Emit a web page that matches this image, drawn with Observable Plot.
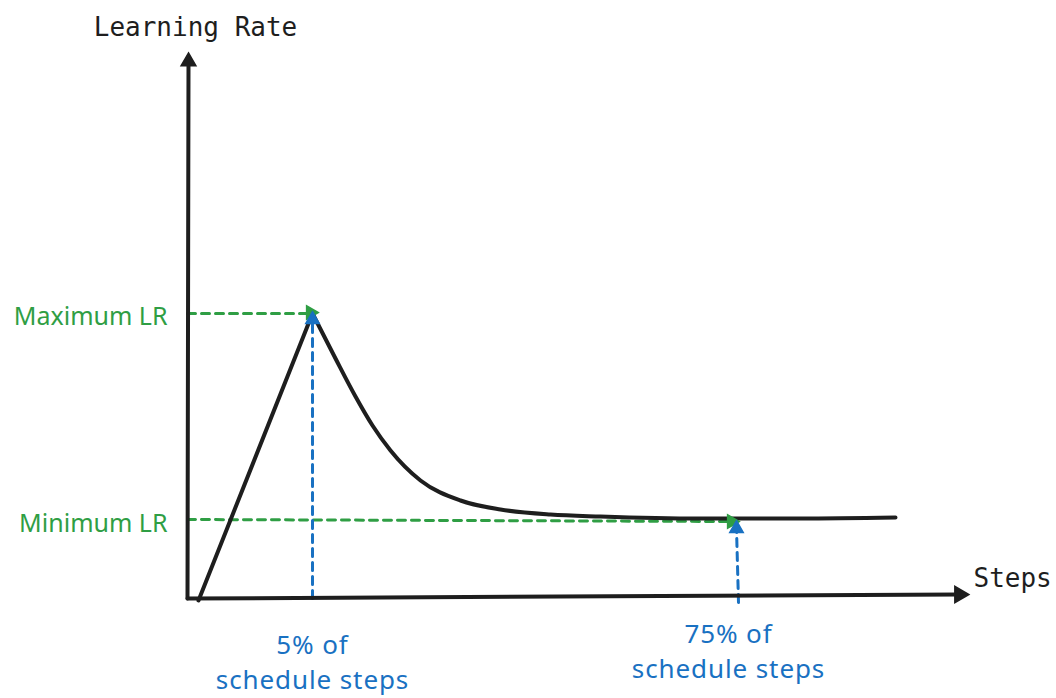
<!DOCTYPE html>
<html><head><meta charset="utf-8">
<script src="https://cdn.jsdelivr.net/npm/d3@7"></script>
<script src="https://cdn.jsdelivr.net/npm/@observablehq/plot@0.6"></script>
<style>html,body{margin:0;padding:0;background:#fff}</style>
</head><body><div id="chart"></div>
<script>
// Schematic learning-rate schedule (arbitrary units)
const rampSteps = [11, 125];
const rampLR = [-2, 285];
const decaySteps = [125, 148, 168, 185, 203, 233, 273, 313, 363, 413, 513, 613, 708];
const decayLR = [285, 240, 202, 173, 148, 118, 98, 89, 84, 82, 80, 80, 81];
const maxLR = 285;
const minLR = 78;
const warmupStep = 125;   // 5% of schedule steps
const plateauStep = 549;  // 75% of schedule steps
const axisEndStep = 781;
const axisTopLR = 543;
const axisLabels = ["Learning Rate", "Steps"];
const lrLabels = ["Maximum LR", "Minimum LR"];
const stepLabels = ["5% of\nschedule steps", "75% of\nschedule steps"];

const BLACK = "#1e1e1e", GREEN = "#2f9e44", BLUE = "#1971c2";
const HAND = "'Noto Sans', sans-serif";
const MONO = "'DejaVu Sans Mono', monospace";

const ramp = rampSteps.map((s, i) => ({step: s, lr: rampLR[i]}));
const decay = decaySteps.map((s, i) => ({step: s, lr: decayLR[i]}));
const yAxisLine = [{step: 0, lr: 0}, {step: 1, lr: axisTopLR - 8}];
const xAxisLine = [{step: 0, lr: 0}, {step: axisEndStep - 10, lr: 4}];
const dash = {x: "step", y: "lr", strokeWidth: 3, strokeDasharray: "8,6"};

const plot = Plot.plot({
  width: 1056,
  height: 698,
  margin: 0,
  style: {background: "#fff", overflow: "visible"},
  x: {domain: [0, axisEndStep], range: [187, 968], axis: null},
  y: {domain: [0, axisTopLR], range: [598, 55], axis: null},
  marks: [
    // guide lines (dashed)
    Plot.line([{step: 0, lr: maxLR}, {step: warmupStep - 2, lr: maxLR}], {...dash, stroke: GREEN}),
    Plot.line([{step: 0, lr: minLR + 1}, {step: plateauStep - 6, lr: minLR - 1}], {...dash, stroke: GREEN}),
    Plot.line([{step: warmupStep, lr: 0}, {step: warmupStep, lr: maxLR - 8}], {...dash, stroke: BLUE}),
    Plot.line([{step: plateauStep + 2, lr: -4}, {step: plateauStep, lr: minLR - 8}], {...dash, stroke: BLUE}),
    // axes
    Plot.line(yAxisLine, {x: "step", y: "lr", stroke: BLACK, strokeWidth: 4, strokeLinecap: "round"}),
    Plot.line(xAxisLine, {x: "step", y: "lr", stroke: BLACK, strokeWidth: 4, strokeLinecap: "round"}),
    Plot.dot([{step: 1, lr: axisTopLR - 6}], {x: "step", y: "lr", symbol: "triangle", r: 5.5, fill: BLACK, stroke: BLACK, strokeWidth: 1.5, rotate: 0}),
    Plot.dot([{step: axisEndStep - 9, lr: 4}], {x: "step", y: "lr", symbol: "triangle", r: 6, fill: BLACK, stroke: BLACK, strokeWidth: 1.5, rotate: 90}),
    // schedule curve
    Plot.line(ramp, {x: "step", y: "lr", stroke: BLACK, strokeWidth: 4, strokeLinecap: "round"}),
    Plot.line(decay, {x: "step", y: "lr", stroke: BLACK, strokeWidth: 4, strokeLinecap: "round", curve: "monotone-x"}),
    // arrowheads on guides
    Plot.dot([{step: warmupStep - 2, lr: maxLR + 1}], {x: "step", y: "lr", symbol: "triangle", r: 5, fill: GREEN, stroke: GREEN, strokeWidth: 1.5, rotate: 90}),
    Plot.dot([{step: warmupStep, lr: maxLR - 6}], {x: "step", y: "lr", symbol: "triangle", r: 5, fill: BLUE, stroke: BLUE, strokeWidth: 1.5, rotate: 0}),
    Plot.dot([{step: plateauStep - 5, lr: minLR - 1}], {x: "step", y: "lr", symbol: "triangle", r: 5, fill: GREEN, stroke: GREEN, strokeWidth: 1.5, rotate: 90}),
    Plot.dot([{step: plateauStep, lr: minLR - 8}], {x: "step", y: "lr", symbol: "triangle", r: 5, fill: BLUE, stroke: BLUE, strokeWidth: 1.5, rotate: 0}),
    // axis titles
    Plot.text([axisLabels[0]], {x: () => 0, y: () => axisTopLR, text: d => d, dx: 8, dy: -28, fontFamily: MONO, fontSize: 26, fill: BLACK}),
    Plot.text([axisLabels[1]], {x: () => axisEndStep, y: () => 0, text: d => d, dx: 5, dy: -20, textAnchor: "start", fontFamily: MONO, fontSize: 26, fill: BLACK}),
    // LR labels
    Plot.text([{t: lrLabels[0], lr: maxLR}, {t: lrLabels[1], lr: minLR}], {x: () => 0, y: "lr", text: "t", dx: -20, dy: 3, textAnchor: "end", fontFamily: HAND, fontSize: 25, fill: GREEN}),
    // step labels
    Plot.text([{t: stepLabels[0], step: warmupStep}], {x: "step", y: () => 0, text: "t", dx: 0, dy: 62, lineAnchor: "middle", lineHeight: 1.35, textAnchor: "middle", fontFamily: HAND, fontSize: 26, fill: BLUE}),
    Plot.text([{t: stepLabels[1], step: plateauStep}], {x: "step", y: () => 0, text: "t", dx: -8, dy: 51, lineAnchor: "middle", lineHeight: 1.35, textAnchor: "middle", fontFamily: HAND, fontSize: 26, fill: BLUE})
  ]
});
d3.select(plot).selectAll("text").filter(function() {
  const g = this.closest("g[fill]");
  return g && g.getAttribute("fill") === BLUE;
}).style("letter-spacing", "0.9px");
document.getElementById("chart").appendChild(plot);
</script>
</body></html>
